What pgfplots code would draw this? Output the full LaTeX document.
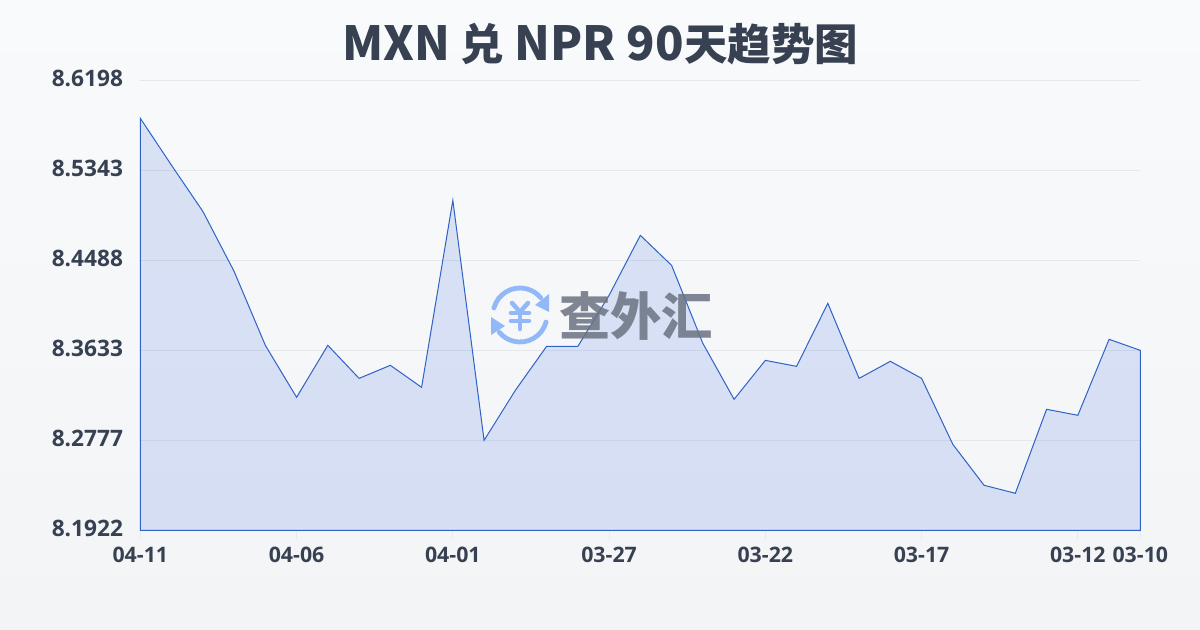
\documentclass[border=0pt]{standalone}
\usepackage{fontspec}
\usepackage{pgfplots}
\pgfplotsset{compat=1.18}
\usetikzlibrary{arrows.meta}
\setmainfont{Open Sans}
\newfontfamily\cjk{Noto Sans CJK SC}
\newcommand{\tc}[1]{{\fontsize{32.6}{40}\selectfont #1}}
\definecolor{ink}{HTML}{374151}
\definecolor{line}{HTML}{2F62C6}
\definecolor{fillc}{HTML}{2860D8}
\definecolor{gridc}{HTML}{E5E7EB}
\definecolor{bgtop}{HTML}{F9FAFC}
\definecolor{bgbot}{HTML}{F3F4F6}
\definecolor{wm}{HTML}{6B7280}
\definecolor{wmblue}{HTML}{93B8F8}
\begin{document}
\begin{tikzpicture}[x=0.75pt,y=-0.75pt]
\shade[top color=bgtop,bottom color=bgbot,draw=none] (0,0) rectangle (1200,630);
\pgfresetboundingbox
\useasboundingbox (0,0) rectangle (1200,630);
\node[font=\cjk\bfseries\fontsize{35.2}{40}\selectfont,text=ink,anchor=center] at (600,44) {MXN \tc{兑} NPR 90\tc{天趋势图}};
\begin{axis}[
  at={(105.25pt,74.75pt)},anchor=south west,
  shift={(0,-472.5pt)},
  width=750pt,height=337.5pt,scale only axis,
  xmin=0,xmax=32,ymin=8.1922,ymax=8.6198,
  axis line style={draw=none},
  xtick={0,5,10,15,20,25,30,32},
  xticklabels={04-11,04-06,04-01,03-27,03-22,03-17,03-12,03-10},
  ytick={8.1922,8.2777,8.3633,8.4488,8.5343,8.6198},
  yticklabels={8.1922,8.2777,8.3633,8.4488,8.5343,8.6198},
  ymajorgrids,
  grid style={gridc,line width=0.75pt},
  tick style={draw=none},
  major tick length=0pt,
  xticklabel style={font=\bfseries\fontsize{16}{18}\selectfont,text=ink,yshift=-9pt},
  yticklabel style={font=\bfseries\fontsize{17}{20}\selectfont,text=ink,xshift=-9.5pt,yshift=1.5pt},
  clip=false,
]
\addplot[line,line width=0.75pt,fill=fillc,fill opacity=0.15,draw opacity=1,sharp plot] coordinates {
(0,8.5837)(1,8.5390)(2,8.4953)(3,8.4383)(4,8.3680)(5,8.3186)(6,8.3680)(7,8.3366)
(8,8.3490)(9,8.3281)(10,8.5058)(11,8.2777)(12,8.3252)(13,8.3670)(14,8.3670)(15,8.4155)
(16,8.4725)(17,8.4440)(18,8.3699)(19,8.3167)(20,8.3537)(21,8.3480)(22,8.4079)(23,8.3366)
(24,8.3528)(25,8.3366)(26,8.2739)(27,8.2350)(28,8.2274)(29,8.3072)(30,8.3015)(31,8.3737)(32,8.3632)
} \closedcycle;
\end{axis}
\foreach \t in {140.3,296.55,452.8,609.05,765.3,921.55,1077.8,1140.3}
  \draw[gridc!70!bgbot,line width=0.75pt] (\t,531) -- (\t,540);
% watermark
\begin{scope}[line cap=round]
  \draw[wmblue,line width=3.6pt] ({520+27*cos(165)},{315-27*sin(165)}) arc[start angle=-165,end angle=-40,radius=27];
  \draw[wmblue,line width=3.6pt] ({520+27*cos(15)},{315+27*sin(15)}) arc[start angle=15,end angle=140,radius=27];
  \fill[wmblue] (549,294) -- (549,312) -- (535,305) -- cycle;
  \fill[wmblue] (491,317) -- (491,335) -- (505,326) -- cycle;
  \draw[wmblue,line width=3.4pt] (512,303) -- (520,312) -- (528,303);
  \draw[wmblue,line width=3.4pt] (511,313) -- (529,313) (511,321) -- (529,321) (520,312) -- (520,329);
\end{scope}
\node[font=\cjk\bfseries\fontsize{38.5}{44}\selectfont,text=wm,opacity=0.85,anchor=center] at (636,316) {查外汇};
\end{tikzpicture}
\end{document}
